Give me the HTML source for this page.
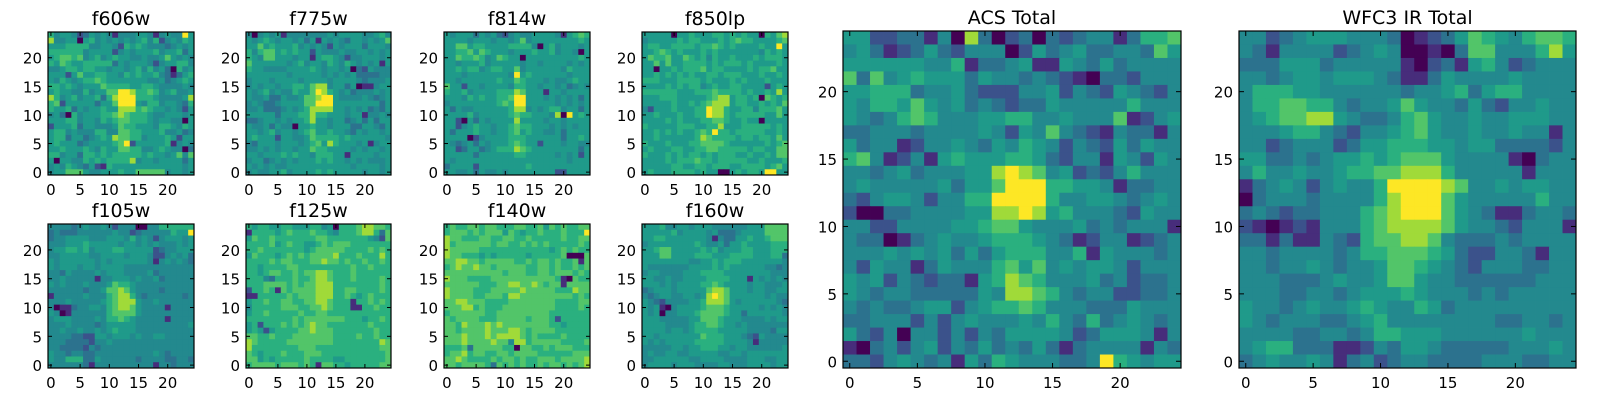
<!DOCTYPE html>
<html><head><meta charset="utf-8"><style>
body{margin:0;background:#fff;}
svg text{font-family:"DejaVu Sans","Liberation Sans",sans-serif;fill:#000;}
</style></head><body>
<svg id="fig" width="1600" height="400" xmlns="http://www.w3.org/2000/svg"></svg>
<script>
// Image data: 25 rows (top row = y index 24 ... bottom = 0), each char is intensity level 0-9
const f606w = ["6455423545414445541454495","8445505645454545646245465","5556666445542656544434545","6666664555524545556455635","5677674564565544544575454","6576556666635455542455664","4456656655455456464530645","5552575566554656556431356","5465456676555555544534565","6656545557666655665444454","5655446455779986676456445","8645645563689996665444458","6725555535579995466455436","6556354556558886765545425","4530645556678766654455545","5556645546567766654554405","2555635544457665554665465","5664544466447766555644534","5663553456587766455565255","5655534555567925555561454","5565556546557766445654403","6645536656566666565545747","5055446565666684554555535","4546543521655555555555545","4557775445556557777745545"];
const f775w = ["4045451444444454555544564","5456545545351545435545457","5575655564545425455535554","6467756565525444544554545","6547755545515665424455545","7555555456455465465454515","6554444555565455450325444","5555555455555454545333344","4555455554555545555434445","4545545566578845535011455","5456454465579865453444545","5445335445778995444454345","4543345555779995555555535","4453334545688885545453435","5555535556686655545514454","3345545455685545534535355","5445354405565545553355435","5545645545675565543545545","5655525544576666565555554","4355545554567586555451455","4454545545576655554545545","5545556565546665515555455","4553454545556565545454445","5454544555555555554555545","4544556455556565555545545"];
const f814w = ["5455535453245445555415676","5555455545545745555555565","5577566555566664056455545","5566757655545556556455405","5576676457655055555555565","5545556455555455455554545","5565664566557455555546555","5554555555549565555554555","5545555556557655545445655","7552554555546655455453454","6556455556668755515545555","5554656556679955545454535","4555555556769955555454545","5354455555568845456645535","5555645555567665554809565","5520535455558555545545555","5524565545567665554545455","5355565545567565544535555","5555024555566655555535565","5434535455567655255545544","5523553456668765555555535","5555535555556655555454525","5455555555555555555554555","3555525555555565555555555","5544535445455555555225555"];
const f850lp = ["5555505565556656565506578","4555556566555656766555567","5665566665667656555565595","5567656555656555555546565","5766755765646556555656665","5575755666656566656555565","5505565666756655556566755","5565656565566566655565565","6665556666565556565556555","5555656566456556655552565","6666665556667666656556585","5556665555567885665607656","5555565565678885665565657","4255565556698865566466675","5565556556698865666665575","5555656555667765565505555","6555556665566855566666565","5565656556769665666665565","5565555556876666566566575","6555655566777765555556567","5655566556677666665665577","6555656566565666556556577","5555656667665666665565556","5555566556656665566665675","5655566665655005656659955"];
const f105w = ["4444345445424440044666666","3433344444454423444446559","3445555444555464542455545","4445556555554554545444545","4556656455566555552344555","4455555445555455542245453","5455555545455555541454543","5455545545555444444444444","4435444454555444453444444","4454444414455545445344444","5454445444576654444444444","4444443445778754444344444","1444445444678864344444434","4445444445678885445444444","4011344554678875444414444","5401444444677775444444444","4555444454667654444414444","4445444434555554444444445","4454454454565554444444444","4444332255455545445544444","4443333244544444444444444","4433332434444444444444444","5443443344444444445434444","5446663354444443444433443","4444443144444444441443444"];
const f125w = ["6566556655566450666788776","1666656766676654666788637","5766766666667766666665427","6666756766556767776666666","6676666666567777766667676","5766656767677778666766686","6666767766677877676676676","6656666776666666667667666","6656776676778876667666666","6664366676678876667666676","6667777676778886666666676","2667617677778886677666676","1166666767778886676567666","5667667766778876661667676","4666667776677876661166766","5667666667667766666666666","6666666676777777766656676","5626667676787766666667666","5652566667787776666666766","7766766677777776666766766","8766666777777776666666687","8666666667776666666666677","7656667666777666666666667","7756566666766665566666667","6777767776761776656666677"];
const f140w = ["6766776776667766757676677","6777676777576566766676669","8776667766776676666676677","8677777767766767676666676","8777776666666666665676766","8776665656666656666670007","7788776777776676776766717","6787787767777766776766767","7777777777677766776777676","8777666677777777777610766","7777776667788778767717777","8777766677777877777666877","8777766777688777777777676","7788777666677777777666677","7778867666777777777666676","6777777667777777776666666","7677776667777767776266666","7768777878777777776656666","7767777877788767777666666","7778777878888767666676666","7778777787748867777766667","6667377777660776676777666","6778677667767777666666777","7787666676776766777677778","7767777637676766767767678"];
const f160w = ["5556445545554444445557777","5555564555545333455557777","5566555555541433556556777","4555555556544535565555666","5567755555656455566555666","5557755556665556666555663","5555555544556566655555554","5444444455556565555554434","4554444555666655555555444","5544544555566665551545454","5554545555667655554554445","3455545555578875554554455","4345544554589875555554544","5432444455688875455555543","5451045555677765555545454","5450445556777765535555554","5554444455777655544445455","5555444456677655454444444","5555455456666555554444355","5545555555766655543254444","5454555556666655554144444","4444455455666554554444445","4544554455555445545555555","4455555544555544445554455","4555545554444554445555455"];
const acsTotal = ["5522331408302303234413667","4531235324440253453344375","5555554461334511543534444","7374565553544343210332444","5566634453222445243254324","5466575453432335444446444","5434676444556644544471245","3344434444542547432143314","5344124454354654243253544","6741241565556653244154254","4434534445589874523246444","4544444535579996655413344","3245542446699996445543454","2003344445588985644432544","4422444455677544453434441","4330134544566654312441234","4445454535356664461544434","4254413544467574545542444","5452432331568764445342334","5434433333548876434422334","4343345524566764443335444","3344424245444546436345434","5324044242435555423555414","1034245243534353134444143","3324543415365444334965455"];
const wfc3Total = ["4423455544430123576546776","4314444234540010377444685","3335553444441023156423444","4434554555431135444454444","4666554444443445635664444","4667766434457544353244544","4567788543346754454455544","4445664324456754454454414","4423444235566655455333324","5533434556567775444410344","4644544566778886444441444","1345424544699998744545544","0344434444689997544444644","3432334446789997543113443","2101214446788887544324441","3313114326778874333434444","4434444346677765322443144","4434454344577654324443344","4443334544577544333333444","4443344345556544434344444","5443454456544653444444444","5434443345644444444334434","4444334434665554444445444","4566333112435543333344454","3454454134234433334443344"];

const panels = [
  {name:"f606w", data:f606w, x:48, y:32, w:146, h:143, big:false},
  {name:"f775w", data:f775w, x:246, y:32, w:145, h:143, big:false},
  {name:"f814w", data:f814w, x:444, y:32, w:146, h:143, big:false},
  {name:"f850lp", data:f850lp, x:642, y:32, w:146, h:143, big:false},
  {name:"f105w", data:f105w, x:48, y:224, w:146, h:144, big:false},
  {name:"f125w", data:f125w, x:246, y:224, w:145, h:144, big:false},
  {name:"f140w", data:f140w, x:444, y:224, w:146, h:144, big:false},
  {name:"f160w", data:f160w, x:642, y:224, w:146, h:144, big:false},
  {name:"ACS Total", data:acsTotal, x:843, y:31, w:338, h:337, big:true},
  {name:"WFC3 IR Total", data:wfc3Total, x:1239, y:31, w:337, h:337, big:true}
];
const ticks = [0,5,10,15,20];
const viridis = ["#440154","#472d7b","#3b528b","#2c728e","#23898e","#1f9a8a","#2ab07f","#52c569","#a0da39","#fde725"];

const NS = "http://www.w3.org/2000/svg";
const svg = document.getElementById('fig');
function mk(tag, attrs, parent){
  const e = document.createElementNS(NS, tag);
  for (const k in attrs) e.setAttribute(k, attrs[k]);
  parent.appendChild(e);
  return e;
}
panels.forEach(p => {
  const slug = p.name.toLowerCase().replace(/\s+/g,'-');
  const g = mk('g', {}, svg);
  
  
  const n = p.data.length;
  const cw = p.w / n, ch = p.h / n;
  const sx = v => p.x + (v + 0.5) * cw;
  const sy = v => p.y + p.h - (v + 0.5) * ch;
  p.data.forEach((row, r) => {
    const yi = n - 1 - r;
    for (let c = 0; c < row.length; c++) {
      const lvl = +row[c];
      const cell = mk('rect', {x:(sx(c)-cw/2).toFixed(2), y:(sy(yi)-ch/2).toFixed(2), width:(cw+0.4).toFixed(2), height:(ch+0.4).toFixed(2), fill:viridis[lvl]}, g);
      
      
    }
  });
  const frame = mk('rect', {x:p.x, y:p.y, width:p.w, height:p.h, fill:'none', stroke:'#000', 'stroke-width':1.2}, g);
  
  
  const tl = p.big ? 5 : 4;
  const fs = 15;
  ticks.forEach(t => {
    const X = sx(t), Y = sy(t);
    mk('line', {x1:X, y1:p.y+p.h, x2:X, y2:p.y+p.h-tl, stroke:'#000'}, g);
    mk('line', {x1:X, y1:p.y, x2:X, y2:p.y+tl, stroke:'#000'}, g);
    mk('line', {x1:p.x, y1:Y, x2:p.x+tl, y2:Y, stroke:'#000'}, g);
    mk('line', {x1:p.x+p.w, y1:Y, x2:p.x+p.w-tl, y2:Y, stroke:'#000'}, g);
    const xl = mk('text', {x:X, y:p.y+p.h+20, 'text-anchor':'middle', 'font-size':fs}, g);
    xl.textContent = t;
    
    
    const yl = mk('text', {x:p.x-6, y:Y+6, 'text-anchor':'end', 'font-size':fs}, g);
    yl.textContent = t;
    
    
  });
  const title = mk('text', {x:p.x+p.w/2, y:p.y-7, 'text-anchor':'middle', 'font-size':19}, g);
  title.textContent = p.name;
  
  
});
</script>
</body></html>
